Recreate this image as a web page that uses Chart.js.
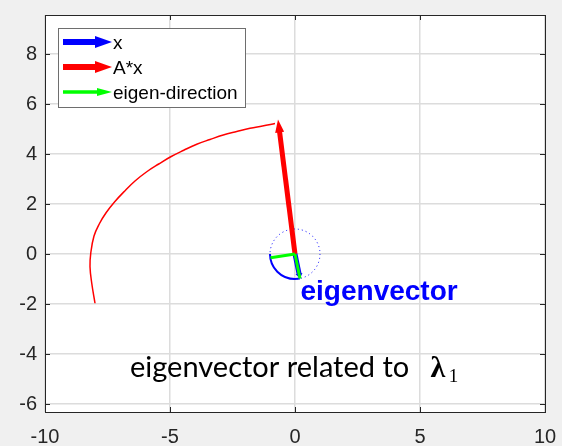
<!DOCTYPE html>
<html>
<head>
<meta charset="utf-8">
<script src="https://cdn.jsdelivr.net/npm/chart.js@4"></script>
<style>
  html, body { margin: 0; padding: 0; background: #f0f0f0; }
  canvas { display: block; }
</style>
</head>
<body>
<canvas id="chart" width="562" height="446"></canvas>
<script>
// axis ticks
const xTicks = [-10, -5, 0, 5, 10];
const yTicks = [-6, -4, -2, 0, 2, 4, 6, 8];

// trajectory of A*x while x turns on the unit circle
const curveX = [-8.0, -8.13, -8.2, -8.17, -8.04, -7.82, -7.55, -7.22, -6.83, -6.4, -5.93, -5.45,
  -4.97, -4.45, -3.93, -3.4, -2.87, -2.33, -1.8, -1.3, -0.8];
const curveY = [-1.97, -1.17, -0.51, 0.03, 0.72, 1.22, 1.66, 2.08, 2.5, 2.92, 3.29, 3.6,
  3.89, 4.15, 4.39, 4.58, 4.76, 4.9, 5.03, 5.12, 5.22];

// vectors
const xVec = [0.2, -0.98];
const axVec = [-0.68, 5.38];
const eigenDirs = [[0.2, -0.98], [-0.98, -0.15]];

// swept arc of x (degrees, counter clockwise)
const arcStart = 180;
const arcEnd = 281;

const legendLabels = ['x', 'A*x', 'eigen-direction'];
const legendColors = ['#0000ff', '#ff0000', '#00ff00'];

function arrow(ctx, x0, y0, x1, y1, color, width, headLen, headW) {
  const a = Math.atan2(y1 - y0, x1 - x0);
  const bx = x1 - Math.cos(a) * headLen * 0.8;
  const by = y1 - Math.sin(a) * headLen * 0.8;
  ctx.save();
  ctx.strokeStyle = color;
  ctx.fillStyle = color;
  ctx.lineWidth = width;
  ctx.lineCap = 'butt';
  ctx.beginPath();
  ctx.moveTo(x0, y0);
  ctx.lineTo(bx, by);
  ctx.stroke();
  const hx = x1 - Math.cos(a) * headLen;
  const hy = y1 - Math.sin(a) * headLen;
  const nx = -Math.sin(a) * headW / 2;
  const ny = Math.cos(a) * headW / 2;
  ctx.beginPath();
  ctx.moveTo(x1, y1);
  ctx.lineTo(hx + nx, hy + ny);
  ctx.lineTo(hx - nx, hy - ny);
  ctx.closePath();
  ctx.fill();
  ctx.restore();
}

function noPad(s) {
  s.paddingLeft = 0;
  s.paddingRight = 0;
  s.paddingTop = 0;
  s.paddingBottom = 0;
}

const plotBg = {
  id: 'plotBg',
  beforeDraw(chart) {
    const { ctx, chartArea: a } = chart;
    ctx.save();
    ctx.fillStyle = '#ffffff';
    ctx.fillRect(a.left, a.top, a.right - a.left, a.bottom - a.top);
    ctx.restore();
  }
};

const overlay = {
  id: 'overlay',
  afterDatasetsDraw(chart) {
    const { ctx, chartArea: a, scales: { x, y } } = chart;
    const px = v => x.getPixelForValue(v);
    const py = v => y.getPixelForValue(v);
    const ox = px(0), oy = py(0);
    const r = px(1) - px(0);

    ctx.save();
    // dotted unit circle
    ctx.strokeStyle = '#0000ff';
    ctx.lineWidth = 1;
    ctx.setLineDash([1, 3]);
    ctx.beginPath();
    ctx.arc(ox, oy, r, 0, Math.PI * 2);
    ctx.stroke();
    ctx.setLineDash([]);

    // swept arc
    ctx.lineWidth = 2;
    ctx.beginPath();
    ctx.arc(ox, oy, r, -arcStart * Math.PI / 180, -arcEnd * Math.PI / 180, true);
    ctx.stroke();
    ctx.restore();

    // A*x
    arrow(ctx, ox, oy, px(axVec[0]), py(axVec[1]), '#ff0000', 5, 13, 9);
    // x
    arrow(ctx, ox, oy, px(xVec[0]), py(xVec[1]), '#0000ff', 5, 5, 7);
    // eigen directions
    ctx.save();
    ctx.strokeStyle = '#00ff00';
    ctx.lineWidth = 3;
    eigenDirs.forEach(d => {
      ctx.beginPath();
      ctx.moveTo(ox, oy);
      ctx.lineTo(px(d[0]), py(d[1]));
      ctx.stroke();
    });
    ctx.restore();

    // annotations
    ctx.save();
    ctx.fillStyle = '#0000ff';
    ctx.font = 'bold 28px "Liberation Sans", Arial, sans-serif';
    ctx.textBaseline = 'alphabetic';
    ctx.fillText('eigenvector', px(0.22), py(-1.84));

    ctx.fillStyle = '#000000';
    ctx.font = '29px Lato, sans-serif';
    ctx.fillText('eigenvector related to', px(-6.6), py(-4.9));
    ctx.font = 'bold 30px "Liberation Serif", serif';
    ctx.fillText('λ', px(5.42), py(-4.9));
    ctx.font = '19px "Liberation Serif", serif';
    ctx.fillText('1', px(6.15), py(-5.12));
    ctx.restore();

    // box and inward ticks
    ctx.save();
    ctx.strokeStyle = '#262626';
    ctx.lineWidth = 1;
    ctx.strokeRect(Math.round(a.left) + 0.5, Math.round(a.top) + 0.5,
      Math.round(a.right - a.left), Math.round(a.bottom - a.top));
    ctx.beginPath();
    xTicks.forEach(v => {
      const p = Math.round(px(v)) + 0.5;
      ctx.moveTo(p, a.bottom); ctx.lineTo(p, a.bottom - 5);
      ctx.moveTo(p, a.top); ctx.lineTo(p, a.top + 5);
    });
    yTicks.forEach(v => {
      const p = Math.round(py(v)) + 0.5;
      ctx.moveTo(a.left, p); ctx.lineTo(a.left + 5, p);
      ctx.moveTo(a.right, p); ctx.lineTo(a.right - 5, p);
    });
    ctx.stroke();
    ctx.restore();

    // legend
    ctx.save();
    const lx = 58, ly = 28, lw = 187, lh = 79;
    ctx.fillStyle = '#ffffff';
    ctx.fillRect(lx, ly, lw, lh);
    ctx.strokeStyle = '#6e6e6e';
    ctx.lineWidth = 1;
    ctx.strokeRect(lx + 0.5, ly + 0.5, lw, lh);
    const rows = [42, 67, 92];
    legendLabels.forEach((lab, i) => {
      const thin = i === 2;
      arrow(ctx, 63, rows[i], 112, rows[i], legendColors[i], thin ? 3.5 : 6, thin ? 15 : 17, thin ? 8 : 12);
      ctx.fillStyle = '#000000';
      ctx.font = '19px "Liberation Sans", Arial, sans-serif';
      ctx.textBaseline = 'alphabetic';
      ctx.fillText(lab, 113, rows[i] + 7);
    });
    ctx.restore();
  }
};

new Chart(document.getElementById('chart'), {
  type: 'scatter',
  data: {
    datasets: [{
      label: 'A*x',
      data: curveX.map((v, i) => ({ x: v, y: curveY[i] })),
      showLine: true,
      borderColor: '#ff0000',
      borderWidth: 1.5,
      pointRadius: 0,
      tension: 0.4,
      fill: false
    }]
  },
  options: {
    responsive: false,
    animation: false,
    devicePixelRatio: 1,
    layout: { padding: { top: 15, right: 17, left: 0, bottom: 0 } },
    plugins: {
      legend: { display: false },
      tooltip: { enabled: false }
    },
    scales: {
      x: {
        type: 'linear',
        min: -10,
        max: 10,
        afterBuildTicks: s => { s.ticks = xTicks.map(v => ({ value: v })); },
        afterFit: s => { s.height = 34; noPad(s); },
        grid: { color: '#dcdcdc', lineWidth: 1.5, drawTicks: false },
        border: { display: false },
        ticks: {
          color: '#262626',
          padding: 13,
          maxRotation: 0,
          font: { family: '"Liberation Sans", Arial, sans-serif', size: 20 }
        }
      },
      y: {
        type: 'linear',
        min: -6.32,
        max: 9.56,
        afterBuildTicks: s => { s.ticks = yTicks.map(v => ({ value: v })); },
        afterFit: s => { s.width = 45; noPad(s); },
        grid: { color: '#dcdcdc', lineWidth: 1.5, drawTicks: false },
        border: { display: false },
        ticks: {
          color: '#262626',
          padding: 8,
          font: { family: '"Liberation Sans", Arial, sans-serif', size: 20 }
        }
      }
    }
  },
  plugins: [plotBg, overlay]
});
</script>
</body>
</html>
